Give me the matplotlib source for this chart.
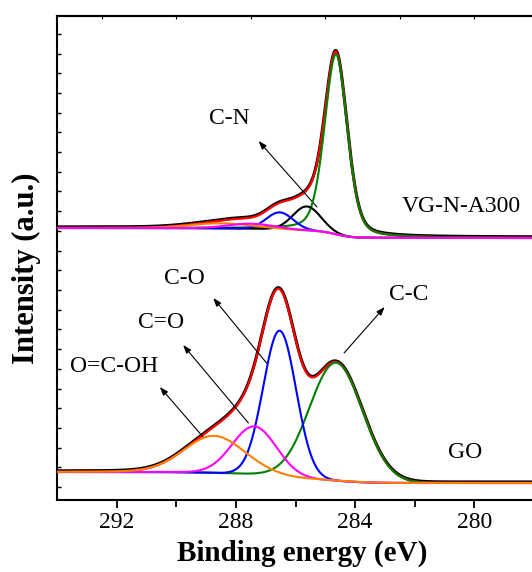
import matplotlib

matplotlib.use("Agg")

import matplotlib.pyplot as plt
import numpy as np

plt.rcParams["font.family"] = ["Liberation Serif", "DejaVu Serif"]
plt.rcParams["mathtext.fontset"] = "stix"

# fitted C1s components
# (binding energy in eV, height in panel units above the background)
GO_CENTERS = [284.64, 286.53, 287.38, 288.73]
GO_HEIGHTS = [118, 146, 48, 37]
GO_FWHM = [2.1, 1.3, 1.75, 2.4]
GO_LORENTZ = [0.0, 0.0, 0.0, 0.1]
GO_COLORS = ["#008000", "#0000ff", "#ff00ff", "#ff8000"]
GO_BACKGROUND = (17, 28)  # low BE end, high BE end

VG_CENTERS = [284.64, 285.62, 286.53, 288.5, 287.5]
VG_HEIGHTS = [180, 24, 17, 5, 5]
VG_FWHM = [0.9, 1.1, 1.05, 2.5, 1.8]
VG_LORENTZ = [0.3, 0.0, 0.0, 0.0, 0.0]
VG_COLORS = ["#008000", "#000000", "#0000ff", "#ff8000", "#ff00ff"]
VG_BACKGROUND = (262, 272)

X_TICKS = [292, 288, 284, 280]
X_MINOR = [290, 286, 282]
TOP_TICKS = [292.5, 290, 287.5, 285, 282.5, 280]


def pseudo_voigt(x, center, height, fwhm, eta):
    d = (x - center) / fwhm
    gauss = np.exp(-4 * np.log(2) * d**2)
    lorentz = 1 / (1 + 4 * d**2)
    return height * ((1 - eta) * gauss + eta * lorentz)


def shirley(peaks_sum, low, high):
    # energy runs high -> low, so accumulate area from the low-BE end
    area = np.cumsum(peaks_sum[::-1])[::-1]
    return low + (high - low) * area / area[0]


def draw_spectrum(ax, energy, centers, heights, fwhm, lorentz, colors, background):
    comps = [
        pseudo_voigt(energy, c, h, w, e)
        for c, h, w, e in zip(centers, heights, fwhm, lorentz)
    ]
    total = np.sum(comps, axis=0)
    bg = shirley(total, *background)
    ax.plot(energy, total + bg + 1.0, color="black", linewidth=2.2, zorder=2)
    ax.plot(energy, total + bg, color="#ff0000", linewidth=1.6, zorder=3)
    for comp, color in zip(comps, colors):
        ax.plot(energy, comp + bg, color=color, linewidth=1.5, zorder=4)


energy = np.linspace(294, 278, 1601)

fig = plt.figure(figsize=(5.32, 5.72), dpi=100)
ax = fig.add_axes([57 / 532, 72 / 572, 477 / 532, 484 / 572])

draw_spectrum(ax, energy, GO_CENTERS, GO_HEIGHTS, GO_FWHM, GO_LORENTZ,
              GO_COLORS, GO_BACKGROUND)
draw_spectrum(ax, energy, VG_CENTERS, VG_HEIGHTS, VG_FWHM, VG_LORENTZ,
              VG_COLORS, VG_BACKGROUND)

arrow = dict(arrowstyle="-|>,head_length=0.5,head_width=0.18", color="black",
             linewidth=0.8, mutation_scale=10, shrinkA=0, shrinkB=0)
notes = [
    ("C-N", (288.22, 382), (287.24, 359), (285.28, 293)),
    ("C-O", (289.74, 221), (288.76, 202), (286.97, 137)),
    ("C=O", (290.52, 177), (289.77, 155), (287.58, 77)),
    ("O=C-OH", (292.07, 133), (290.55, 113), (289.10, 63)),
    ("C-C", (282.20, 206), (283.01, 193), (284.37, 147)),
]
for label, text_xy, head, tail in notes:
    ax.text(*text_xy, label, fontsize=17, ha="center", va="center")
    ax.annotate("", xy=head, xytext=tail, arrowprops=arrow)

ax.text(280.45, 293, "VG-N-A300", fontsize=17, ha="center", va="center")
ax.text(280.31, 47, "GO", fontsize=17, ha="center", va="center")

ax.set_xlim(294, 278)
ax.set_ylim(0, 484)
ax.set_xticks(X_TICKS)
ax.set_xticks(X_MINOR, minor=True)
ax.set_yticks(np.arange(13, 470, 19.7), minor=True)
ax.set_yticks([])
ax.tick_params(axis="x", which="both", direction="out", labelsize=17,
               width=1.3, pad=3)
ax.tick_params(axis="x", which="major", length=6)
ax.tick_params(axis="x", which="minor", length=5)
ax.tick_params(axis="y", which="minor", direction="in", length=3, width=1.0)

top = ax.secondary_xaxis("top")
top.set_xticks(TOP_TICKS)
top.set_xticklabels([])
top.tick_params(direction="in", length=2, width=0.8)
top.spines["top"].set_linewidth(1.5)

for spine in ax.spines.values():
    spine.set_linewidth(1.5)

ax.set_xlabel("Binding energy (eV)", fontsize=21, fontweight="bold")
ax.xaxis.set_label_coords(0.514, -0.082)
ax.set_ylabel("Intensity (a.u.)", fontsize=22, fontweight="bold")
ax.yaxis.set_label_coords(-0.033, 0.479)

fig.savefig("out.png", dpi=100)
